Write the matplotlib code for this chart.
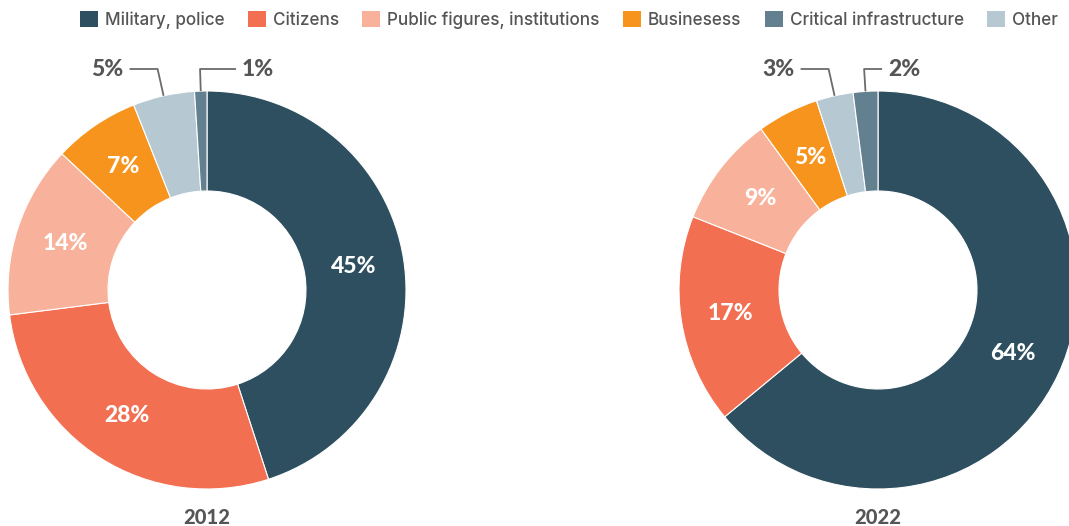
import numpy as np
import matplotlib
matplotlib.use("Agg")
from matplotlib import pyplot as plt
from matplotlib.patches import Patch

# data
categories = ["Military, police", "Citizens", "Public figures, institutions",
              "Businesess", "Critical infrastructure", "Other"]
colors = ["#2d4f5f", "#f26f52", "#f8b29b", "#f7941e", "#62808f", "#b6c9d3"]

# wedge order going clockwise from the top
wedge_order = [0, 1, 2, 3, 5, 4]

years = ["2012", "2022"]
values_2012 = [45, 28, 14, 7, 1, 5]
values_2022 = [64, 17, 9, 5, 2, 3]

W, H = 1069, 526
fig = plt.figure(figsize=(W / 100, H / 100), dpi=100)
ax = fig.add_axes([0, 0, 1, 1])

label_font = "Lato"
text_grey = "#555555"

# pie layout: (center x, center y in pixels from top), leader lines
charts = [
    dict(year=years[0], values=values_2012, cx=207, cy=290,
         leaders={4: ("right", 36), 5: ("left", 28)}),
    dict(year=years[1], values=values_2022, cx=878, cy=290,
         leaders={4: ("right", 18), 5: ("left", 28)}),
]
R = 199
ring = 100
elbow_y = H - 69


def draw_donut(c):
    vals = [c["values"][i] for i in wedge_order]
    cols = [colors[i] for i in wedge_order]
    cx, cy = c["cx"], H - c["cy"]
    ax.pie(vals, colors=cols, startangle=90, counterclock=False,
           center=(cx, cy), radius=R,
           wedgeprops=dict(width=ring, edgecolor="white", linewidth=0.8))

    total = float(sum(vals))
    start = 0.0
    for idx in wedge_order:
        v = c["values"][idx]
        mid = (start + v / 2) / total * 2 * np.pi
        start += v
        sx, sy = np.sin(mid), np.cos(mid)
        if idx in c["leaders"]:
            side, length = c["leaders"][idx]
            x0, y0 = cx + R * sx, cy + R * sy
            t = (elbow_y - y0) / sy
            x1 = x0 + t * sx
            x2 = x1 + (length if side == "right" else -length)
            ax.plot([x0, x1, x2], [y0, elbow_y, elbow_y], color="#6b6b6b",
                    lw=1.3, solid_capstyle="butt", zorder=3)
            ha = "left" if side == "right" else "right"
            tx = x2 + (6 if side == "right" else -6)
            ax.text(tx, elbow_y, f"{v}%", ha=ha, va="center", fontsize=16.5,
                    fontweight="black", color=text_grey, family=label_font)
        else:
            rr = R - ring / 2
            ax.text(cx + rr * sx, cy + rr * sy, f"{v}%", ha="center",
                    va="center", fontsize=16.5, fontweight="black",
                    color="white", family=label_font)

    ax.text(cx, H - 517, c["year"], ha="center", va="center", fontsize=14.5,
            fontweight="black", color=text_grey, family=label_font)


for c in charts:
    draw_donut(c)

ax.set_xlim(0, W)
ax.set_ylim(0, H)
ax.set_aspect("equal")
ax.axis("off")

handles = [Patch(facecolor=col, edgecolor="none") for col in colors]
fig.legend(handles, categories, loc="center", bbox_to_anchor=(569 / W, 1 - 20 / H),
           ncol=6, frameon=False, handlelength=1.05, handleheight=1.05,
           handletextpad=0.4, columnspacing=1.38,
           prop=dict(family="Inter", size=12.3, weight="medium"),
           labelcolor=text_grey)

fig.savefig("out.png", dpi=100, facecolor="white")
